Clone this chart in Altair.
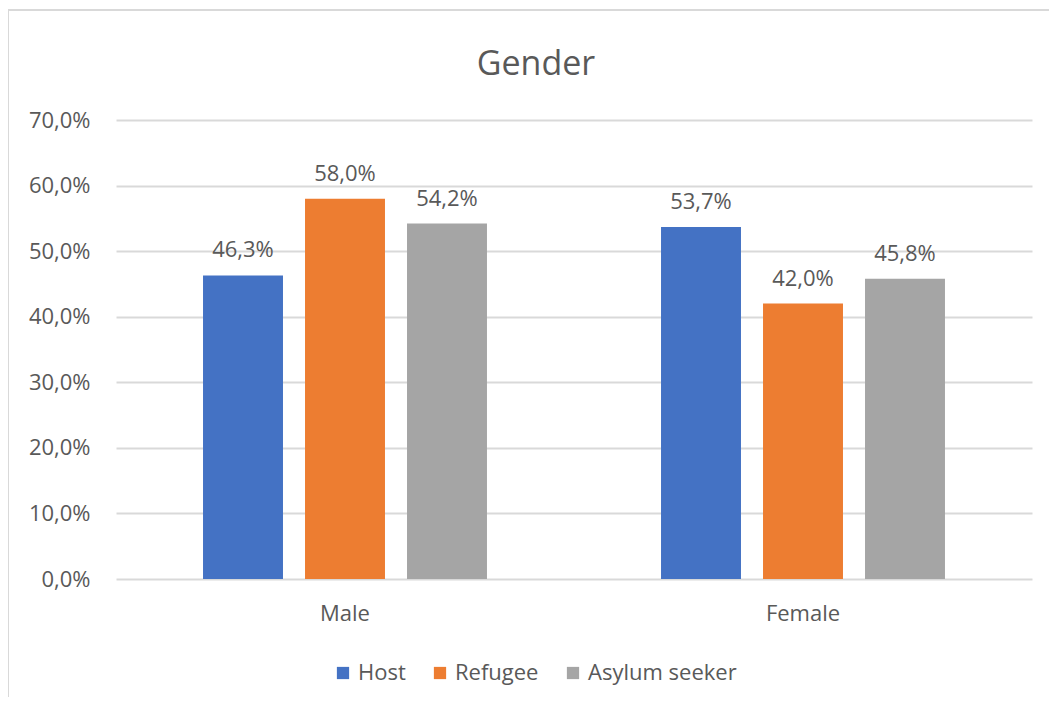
import altair as alt
import pandas as pd

categories = ["Male", "Female"]
groups = ["Host", "Refugee", "Asylum seeker"]
host = [46.3, 53.7]
refugee = [58.0, 42.0]
asylum = [54.2, 45.8]
colors = ["#4472C4", "#ED7D31", "#A5A5A5"]
y_ticks = [0, 10, 20, 30, 40, 50, 60, 70]

rows = []
for gname, vals in zip(groups, [host, refugee, asylum]):
    for c, v in zip(categories, vals):
        rows.append({"category": c, "group": gname, "value": v})
df = pd.DataFrame(rows)

FONT = "Open Sans"
TXT = "#595959"
FS = 22

x = alt.X("category:N", sort=categories, title=None,
          scale=alt.Scale(paddingInner=0.38, paddingOuter=0.19),
          axis=alt.Axis(labelAngle=0, ticks=False, domain=False, labelPadding=24,
                        labelFontSize=FS, labelColor=TXT, labelFont=FONT))
xo = alt.XOffset("group:N", sort=groups, scale=alt.Scale(paddingInner=0.216, paddingOuter=0))

base = alt.Chart(df).encode(x=x, xOffset=xo)

bars = base.mark_bar().encode(
    y=alt.Y("value:Q", title=None,
            scale=alt.Scale(domain=[0, 70], nice=False),
            axis=alt.Axis(values=y_ticks, ticks=False, domain=False, labelPadding=26,
                          labelExpr="replace(format(datum.value, '.1f'), '.', ',') + '%'",
                          labelFontSize=FS, labelColor=TXT, labelFont=FONT,
                          gridColor="#D9D9D9", gridWidth=2)),
    color=alt.Color("group:N", sort=groups, title=None,
                    scale=alt.Scale(domain=groups, range=colors),
                    legend=alt.Legend(orient="none", legendX=216, legendY=542, direction="horizontal",
                                      symbolType="square", symbolSize=150, symbolStrokeWidth=0,
                                      labelFontSize=FS, labelColor=TXT, labelFont=FONT,
                                      columnPadding=23, padding=0, symbolOpacity=1)),
)

labels = base.mark_text(baseline="alphabetic", dy=-18, fontSize=FS, color=TXT, font=FONT).transform_calculate(
    lbl="replace(format(datum.value, '.1f'), '.', ',') + '%'"
).encode(y="value:Q", text="lbl:N")

border_data = alt.Data(values=[{"k": 1}])
top_line = alt.Chart(border_data).mark_rule(color="#D9D9D9", strokeWidth=2, clip=False).encode(
    x=alt.value(-108), x2=alt.value(960), y=alt.value(-110))
left_line = alt.Chart(border_data).mark_rule(color="#D9D9D9", strokeWidth=2, clip=False).encode(
    x=alt.value(-108), y=alt.value(-110), y2=alt.value(610))

chart = alt.layer(bars, labels, top_line, left_line).properties(
    width=916, height=459,
    autosize=alt.AutoSizeParams(type="none"),
    padding={"left": 108, "top": 112, "right": 17, "bottom": 118},
    title=alt.TitleParams("Gender", fontSize=34, font=FONT, color=TXT, fontWeight="normal",
                          anchor="middle", dx=-38, offset=-73),
).configure_view(stroke=None)

chart.save("out.html", embed_options={"renderer": "svg", "actions": False})
